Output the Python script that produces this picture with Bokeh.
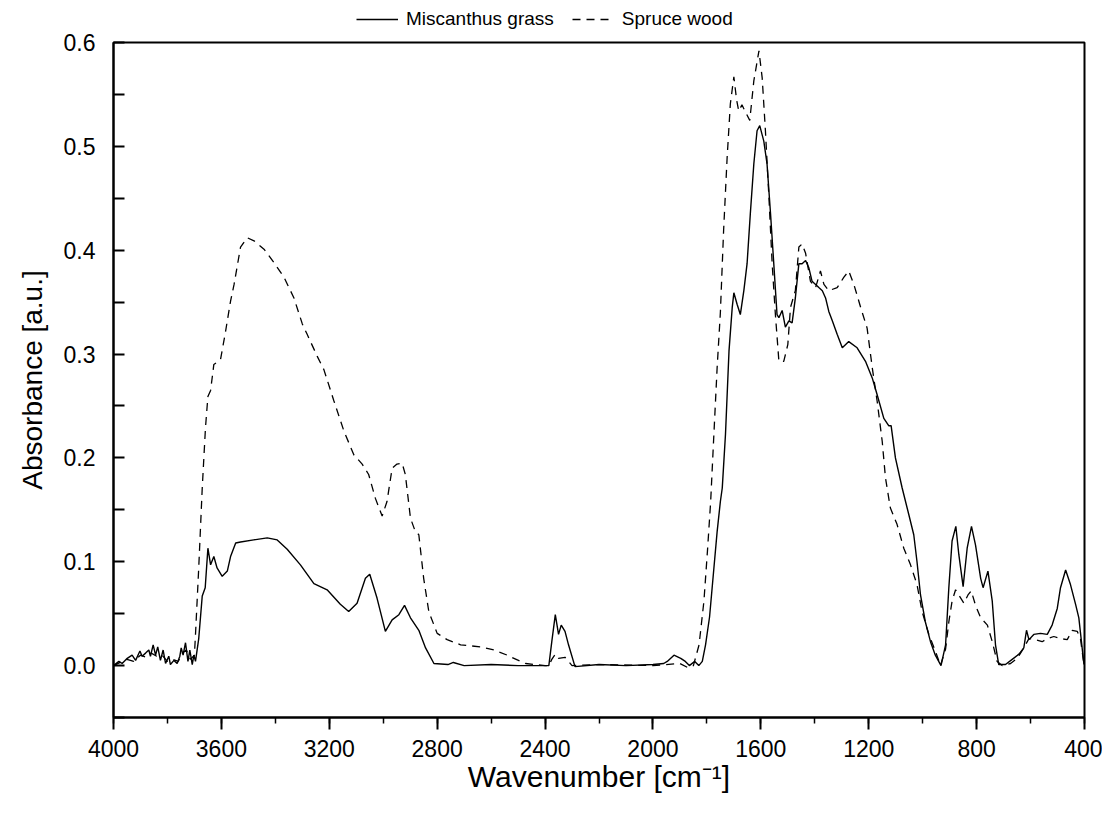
from bokeh.plotting import figure
from bokeh.layouts import column
from bokeh.models import (Range1d, SingleIntervalTicker, FixedTicker, PrintfTickFormatter,
                          Legend, LegendItem)
from bokeh.embed import file_html
from bokeh.resources import INLINE

# ---- data ----
misc_wn = [4000, 3980, 3968, 3949, 3931, 3918, 3902, 3894, 3881, 3869, 3863, 3853, 3844, 3836,
           3826, 3816, 3807, 3795, 3789, 3776, 3764, 3754, 3749, 3742, 3733, 3724, 3717, 3708,
           3702, 3696, 3684, 3671, 3660, 3650, 3640, 3628, 3616, 3597, 3578, 3566, 3547, 3529,
           3480, 3430, 3393, 3356, 3307, 3257, 3208, 3159, 3128, 3097, 3066, 3050, 3023, 2992,
           2967, 2942, 2921, 2899, 2868, 2843, 2812, 2760, 2740, 2700, 2600, 2500, 2386, 2375,
           2362, 2350, 2340, 2326, 2313, 2289, 2200, 2100, 2000, 1960, 1947, 1922, 1897, 1880,
           1865, 1845, 1830, 1817, 1805, 1790, 1774, 1762, 1750, 1743, 1731, 1718, 1706, 1700,
           1688, 1676, 1663, 1651, 1639, 1626, 1614, 1604, 1589, 1577, 1564, 1552, 1540, 1533,
           1521, 1509, 1496, 1484, 1472, 1459, 1447, 1434, 1422, 1410, 1397, 1385, 1372, 1360,
           1348, 1335, 1317, 1298, 1274, 1243, 1212, 1187, 1169, 1144, 1126, 1117, 1101, 1076,
           1051, 1033, 1021, 1008, 990, 971, 953, 932, 915, 903, 891, 877, 866, 850, 835, 819,
           804, 785, 776, 758, 742, 730, 718, 693, 668, 643, 625, 615, 606, 588, 563, 538, 520,
           501, 489, 470, 452, 433, 421, 402]
misc_abs = [0.000, 0.004, 0.002, 0.007, 0.010, 0.005, 0.014, 0.009, 0.012, 0.015, 0.009, 0.020,
            0.010, 0.018, 0.005, 0.015, 0.002, 0.009, 0.001, 0.005, 0.002, 0.009, 0.017, 0.010,
            0.022, 0.004, 0.015, 0.001, 0.010, 0.004, 0.026, 0.067, 0.075, 0.113, 0.097, 0.105,
            0.094, 0.086, 0.091, 0.105, 0.118, 0.119, 0.121, 0.123, 0.121, 0.112, 0.097, 0.079,
            0.073, 0.059, 0.052, 0.060, 0.084, 0.088, 0.065, 0.033, 0.044, 0.049, 0.058, 0.046,
            0.034, 0.017, 0.002, 0.001, 0.003, 0.000, 0.001, 0.000, 0.000, 0.023, 0.049, 0.030,
            0.039, 0.033, 0.020, -0.001, 0.001, 0.000, 0.001, 0.002, 0.004, 0.010, 0.007, 0.004,
            0.000, 0.004, 0.000, 0.004, 0.020, 0.047, 0.094, 0.129, 0.158, 0.171, 0.223, 0.303,
            0.345, 0.359, 0.348, 0.338, 0.361, 0.387, 0.435, 0.483, 0.515, 0.520, 0.505, 0.483,
            0.435, 0.387, 0.338, 0.335, 0.342, 0.326, 0.332, 0.330, 0.354, 0.387, 0.387, 0.390,
            0.383, 0.370, 0.367, 0.364, 0.361, 0.354, 0.341, 0.332, 0.319, 0.306, 0.312, 0.306,
            0.293, 0.277, 0.261, 0.238, 0.231, 0.231, 0.200, 0.171, 0.145, 0.126, 0.100, 0.068,
            0.042, 0.023, 0.010, 0.000, 0.020, 0.075, 0.120, 0.134, 0.107, 0.076, 0.113, 0.134,
            0.116, 0.084, 0.075, 0.091, 0.062, 0.020, 0.001, 0.001, 0.006, 0.011, 0.017, 0.034,
            0.025, 0.030, 0.031, 0.030, 0.039, 0.055, 0.075, 0.092, 0.078, 0.059, 0.046, 0.001]

spruce_wn = [4000, 3975, 3950, 3925, 3900, 3880, 3860, 3840, 3820, 3800, 3780, 3760, 3745, 3730,
             3715, 3700, 3696, 3684, 3671, 3659, 3650, 3640, 3628, 3616, 3603, 3585, 3566, 3553,
             3529, 3504, 3479, 3442, 3405, 3368, 3331, 3300, 3282, 3245, 3220, 3183, 3146, 3109,
             3078, 3054, 3029, 3004, 2986, 2967, 2949, 2930, 2918, 2899, 2881, 2868, 2850, 2831,
             2800, 2763, 2713, 2639, 2590, 2540, 2491, 2472, 2400, 2386, 2375, 2362, 2350, 2326,
             2300, 2200, 2000, 1900, 1870, 1850, 1829, 1811, 1798, 1786, 1774, 1762, 1750, 1738,
             1725, 1713, 1700, 1690, 1682, 1670, 1657, 1641, 1626, 1607, 1595, 1583, 1570, 1558,
             1546, 1533, 1515, 1500, 1490, 1472, 1459, 1447, 1434, 1416, 1397, 1379, 1366, 1348,
             1317, 1292, 1274, 1255, 1230, 1206, 1187, 1169, 1150, 1138, 1120, 1095, 1070, 1045,
             1021, 1002, 977, 953, 934, 915, 903, 891, 878, 866, 847, 832, 820, 804, 785, 760,
             742, 724, 705, 674, 649, 625, 606, 582, 557, 538, 514, 489, 464, 445, 427, 415, 402]
spruce_abs = [0.000, 0.003, 0.006, 0.004, 0.010, 0.008, 0.012, 0.009, 0.010, 0.004, 0.006,
              0.004, 0.012, 0.015, 0.006, 0.010, 0.030, 0.094, 0.171, 0.229, 0.259, 0.265, 0.290,
              0.292, 0.295, 0.321, 0.351, 0.367, 0.403, 0.412, 0.409, 0.401, 0.388, 0.374, 0.354,
              0.329, 0.319, 0.298, 0.285, 0.255, 0.226, 0.203, 0.194, 0.184, 0.161, 0.144, 0.158,
              0.190, 0.194, 0.195, 0.184, 0.142, 0.129, 0.126, 0.084, 0.052, 0.031, 0.025, 0.020,
              0.018, 0.015, 0.010, 0.004, 0.002, 0.000, 0.000, 0.006, 0.011, 0.007, 0.008, 0.000,
              0.001, 0.000, 0.002, -0.002, 0.000, 0.020, 0.062, 0.110, 0.158, 0.223, 0.287, 0.340,
              0.419, 0.489, 0.541, 0.567, 0.545, 0.534, 0.540, 0.533, 0.525, 0.563, 0.592, 0.566,
              0.515, 0.451, 0.387, 0.338, 0.293, 0.293, 0.309, 0.345, 0.361, 0.403, 0.406, 0.397,
              0.370, 0.364, 0.380, 0.367, 0.361, 0.364, 0.374, 0.380, 0.367, 0.345, 0.325, 0.287,
              0.255, 0.216, 0.181, 0.152, 0.136, 0.113, 0.097, 0.078, 0.052, 0.030, 0.014, 0.000,
              0.016, 0.042, 0.062, 0.073, 0.068, 0.060, 0.068, 0.072, 0.058, 0.046, 0.039, 0.023,
              0.004, 0.000, 0.002, 0.007, 0.017, 0.026, 0.025, 0.023, 0.026, 0.028, 0.026, 0.025,
              0.034, 0.033, 0.026, 0.001]

series_names = ["Miscanthus grass", "Spruce wood"]
x_title = "Wavenumber [cm\u207b\u00b9]"
y_title = "Absorbance [a.u.]"
y_major_ticks = [0.0, 0.1, 0.2, 0.3, 0.4, 0.5, 0.6]
y_minor_ticks = [-0.05, 0.05, 0.15, 0.25, 0.35, 0.45, 0.55]

FONT = "Liberation Sans"
SOLID = dict(line_color="black", line_width=1.4)
DASHED = dict(line_color="black", line_width=1.3, line_dash="8 6")

# ---- main chart ----
p = figure(width=1102, height=780, output_backend="svg", toolbar_location=None,
           x_range=Range1d(4000, 400), y_range=Range1d(-0.05, 0.6),
           min_border_left=113, min_border_right=18, min_border_top=12, min_border_bottom=93)
p.background_fill_color = "white"
p.border_fill_color = "white"
p.grid.visible = False
p.outline_line_color = "black"
p.outline_line_width = 2
p.outline_line_alpha = 1

p.line(misc_wn, misc_abs, **SOLID)
p.line(spruce_wn, spruce_abs, **DASHED)

xa = p.xaxis[0]
xa.ticker = SingleIntervalTicker(interval=400, num_minor_ticks=2)
xa.axis_label = x_title
xa.axis_label_text_font = FONT
xa.axis_label_text_font_size = "30px"
xa.axis_label_text_font_style = "normal"
xa.axis_label_text_color = "black"
xa.axis_label_standoff = 0
xa.major_label_text_font = FONT
xa.major_label_text_font_size = "23px"
xa.major_label_text_color = "black"
xa.major_label_standoff = 10
xa.major_tick_in = 0
xa.major_tick_out = 12
xa.minor_tick_in = 0
xa.minor_tick_out = 6
xa.axis_line_width = 2
xa.major_tick_line_width = 2
xa.minor_tick_line_width = 1.5

ya = p.yaxis[0]
ya.ticker = FixedTicker(ticks=y_major_ticks, minor_ticks=y_minor_ticks)
ya.formatter = PrintfTickFormatter(format="%.1f")
ya.axis_label = y_title
ya.axis_label_text_font = FONT
ya.axis_label_text_font_size = "28px"
ya.axis_label_text_font_style = "normal"
ya.axis_label_text_color = "black"
ya.axis_label_standoff = 13
ya.major_label_text_font = FONT
ya.major_label_text_font_size = "23px"
ya.major_label_text_color = "black"
ya.major_label_standoff = 18
ya.major_tick_in = 11
ya.major_tick_out = 0
ya.minor_tick_in = 11
ya.minor_tick_out = 0
ya.axis_line_width = 2
ya.major_tick_line_width = 2
ya.minor_tick_line_width = 2

# ---- legend strip above the chart (key renderers lie outside its view) ----
lg = figure(width=1102, height=30, output_backend="svg", toolbar_location=None,
            x_range=Range1d(0, 1), y_range=Range1d(0, 1),
            min_border=0, min_border_left=0, min_border_right=0,
            min_border_top=0, min_border_bottom=0)
lg.axis.visible = False
lg.grid.visible = False
lg.outline_line_color = None
lg.background_fill_color = "white"
lg.border_fill_color = "white"
k1 = lg.line([5, 6], [5, 6], **SOLID)
k2 = lg.line([5, 6], [5, 6], **DASHED)
legend = Legend(items=[LegendItem(label=series_names[0], renderers=[k1]),
                       LegendItem(label=series_names[1], renderers=[k2])],
                orientation="horizontal", location=(243, 0),
                label_text_font=FONT, label_text_font_size="19px",
                label_text_color="black",
                glyph_width=42, glyph_height=16, label_standoff=8, spacing=18,
                padding=0, margin=0, border_line_color=None,
                background_fill_alpha=0)
lg.add_layout(legend, "center")

layout = column(lg, p, spacing=0)
open("out.html", "w").write(file_html(layout, INLINE))
